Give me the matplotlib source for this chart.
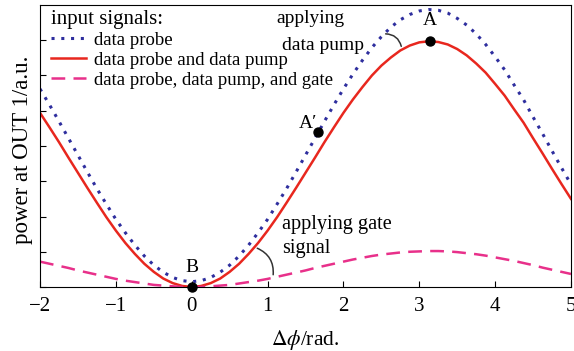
#!/usr/bin/env python3
"""
OUT 1 power vs phase difference for the three input signal cases
"""

import matplotlib
matplotlib.use("Agg")
import matplotlib.pyplot as plt

plt.rcParams['font.family'] = ['Liberation Serif', 'DejaVu Serif']
plt.rcParams['mathtext.fontset'] = 'stix'

# phase difference (rad)
dphi = [-2.0, -1.875, -1.75, -1.625, -1.5, -1.375, -1.25, -1.125,
        -1.0, -0.875, -0.75, -0.625, -0.5, -0.375, -0.25, -0.125,
        0.0, 0.125, 0.25, 0.375, 0.5, 0.625, 0.75, 0.875,
        1.0, 1.125, 1.25, 1.375, 1.5, 1.625, 1.75, 1.875,
        2.0, 2.125, 2.25, 2.375, 2.5, 2.625, 2.75, 2.875,
        3.0, 3.125, 3.25, 3.375, 3.5, 3.625, 3.75, 3.875,
        4.0, 4.125, 4.25, 4.375, 4.5, 4.625, 4.75, 4.875, 5.0]

# data probe only
p_probe = [5.62, 5.17, 4.70, 4.22, 3.74, 3.26, 2.79, 2.35,
           1.92, 1.54, 1.19, 0.88, 0.62, 0.42, 0.27, 0.18,
           0.15, 0.18, 0.27, 0.42, 0.62, 0.88, 1.19, 1.54,
           1.92, 2.35, 2.79, 3.26, 3.74, 4.22, 4.70, 5.17,
           5.62, 6.04, 6.43, 6.79, 7.10, 7.37, 7.58, 7.73,
           7.83, 7.87, 7.85, 7.77, 7.62, 7.43, 7.18, 6.88,
           6.53, 6.16, 5.73, 5.31, 4.82, 4.35, 3.86, 3.38, 2.91]

# data probe + data pump
p_pump = [4.94, 4.53, 4.11, 3.67, 3.24, 2.81, 2.39, 1.98,
          1.60, 1.25, 0.94, 0.66, 0.43, 0.24, 0.11, 0.03,
          0.00, 0.03, 0.11, 0.24, 0.43, 0.66, 0.94, 1.25,
          1.60, 1.98, 2.39, 2.81, 3.24, 3.67, 4.11, 4.53,
          4.94, 5.32, 5.67, 6.00, 6.28, 6.51, 6.71, 6.85,
          6.94, 6.97, 6.95, 6.88, 6.75, 6.57, 6.34, 6.08,
          5.76, 5.43, 5.04, 4.66, 4.22, 3.79, 3.35, 2.92, 2.50]

# data probe + data pump + gate
p_gate = [0.72, 0.66, 0.60, 0.54, 0.47, 0.41, 0.35, 0.29,
          0.23, 0.18, 0.14, 0.10, 0.06, 0.04, 0.02, 0.00,
          0.00, 0.00, 0.02, 0.04, 0.06, 0.10, 0.14, 0.18,
          0.23, 0.29, 0.35, 0.41, 0.47, 0.54, 0.60, 0.66,
          0.72, 0.78, 0.83, 0.88, 0.92, 0.95, 0.98, 1.00,
          1.01, 1.02, 1.02, 1.01, 0.99, 0.96, 0.93, 0.89,
          0.84, 0.79, 0.74, 0.68, 0.62, 0.55, 0.49, 0.43, 0.37]

# marked points
pt_x = [3.14, 1.67, 0.0]
pt_y = [6.97, 4.39, 0.0]

fig = plt.figure(figsize=(5.74, 3.51), dpi=100)
ax = fig.add_axes([0.0697, 0.1823, 0.9251, 0.8035])

ax.plot(dphi, p_probe, color='#2e2e9e', linestyle=(0, (1, 2.2)), linewidth=2.2,
        label='data probe')
ax.plot(dphi, p_pump, color='#e8271e', linestyle='-', linewidth=1.8,
        label='data probe and data pump')
ax.plot(dphi, p_gate, color='#e8308a', linestyle=(0, (5.5, 3.3)), linewidth=1.8,
        label='data probe, data pump, and gate')

ax.scatter(pt_x, pt_y, s=42, color='black', zorder=5, clip_on=False)
ax.text(3.14, 7.56, 'A', ha='center', va='center', fontsize=14)
ax.text(1.53, 4.65, "A\u2032", ha='center', va='center', fontsize=14)
ax.text(0.0, 0.56, 'B', ha='center', va='center', fontsize=14)

# annotations
ax.text(1.12, 7.62, 'applying', ha='left', va='center', fontsize=14)
ax.text(1.19, 6.86, 'data pump', ha='left', va='center', fontsize=14)
ax.annotate('', xy=(2.77, 6.75), xytext=(2.52, 7.18),
            arrowprops=dict(arrowstyle='-', color='#333333', lw=1.1,
                            connectionstyle='arc3,rad=-0.45'))
ax.text(1.19, 1.76, 'applying gate', ha='left', va='center', fontsize=14.6)
ax.text(1.19, 1.10, 'signal', ha='left', va='center', fontsize=14.6)
ax.annotate('', xy=(1.07, 0.27), xytext=(0.83, 1.13),
            arrowprops=dict(arrowstyle='-', color='#333333', lw=1.1,
                            connectionstyle='arc3,rad=-0.4'))

ax.set_xlim(-2, 5)
ax.set_ylim(0, 8)
ax.set_xticks(range(-2, 6))
ax.set_yticks(range(0, 8))
ax.set_yticklabels([])
ax.tick_params(direction='in', length=4, labelsize=15)
ax.tick_params(axis='x', pad=7)

ax.set_xlabel(r'$\Delta\phi$/rad.', fontsize=15.5, labelpad=9)
ax.set_ylabel('power at OUT 1/a.u.', fontsize=16.5)
ax.yaxis.set_label_coords(-0.013, 0.486)

leg = ax.legend(loc='upper left', bbox_to_anchor=(0.012, 1.0),
                title='input signals:', frameon=False,
                fontsize=13.5, title_fontsize=15, handlelength=1.85,
                handletextpad=0.45, labelspacing=0.16, borderaxespad=0.15,
                borderpad=0.1)
leg._legend_box.align = 'left'

fig.savefig('out.png', dpi=100)
